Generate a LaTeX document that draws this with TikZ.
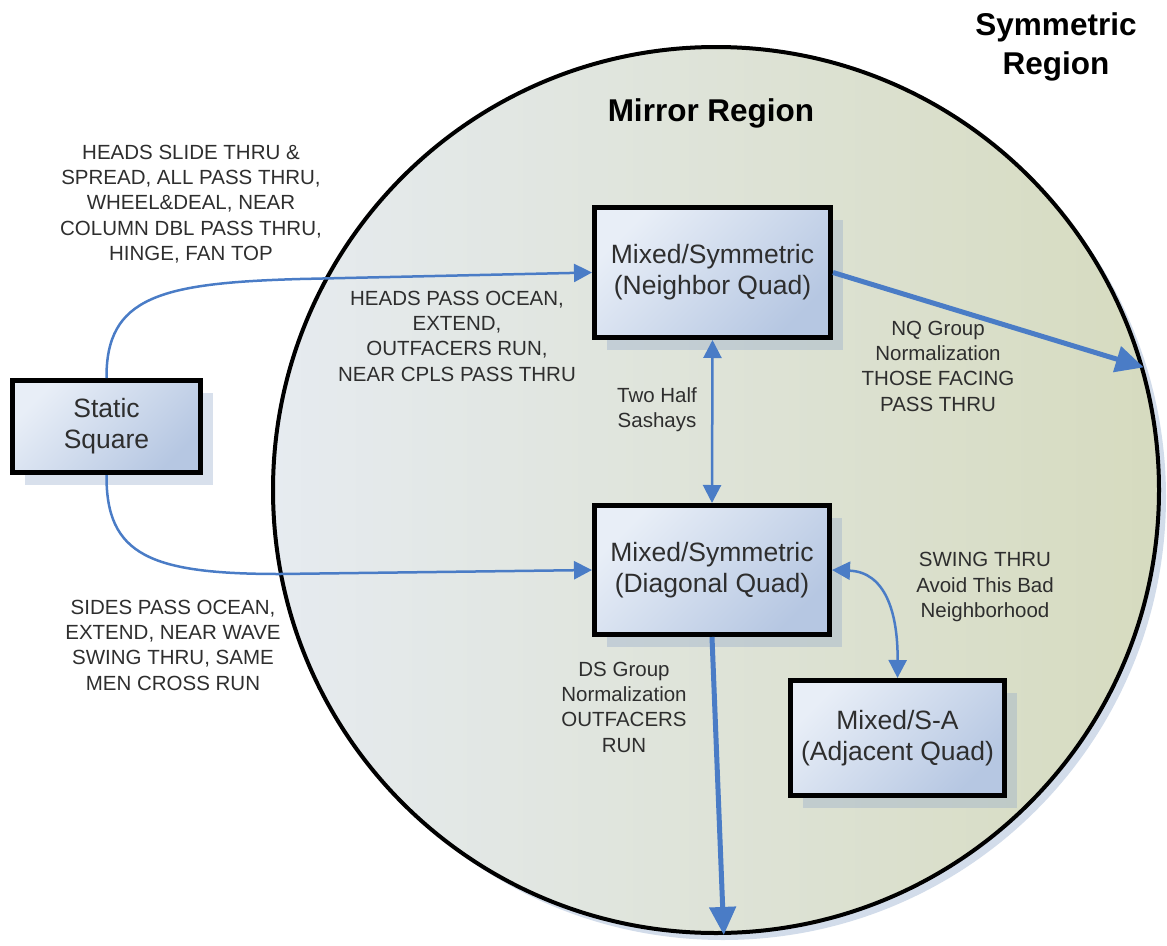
\documentclass[tikz,border=0pt]{standalone}
\usepackage{fontspec}
\setmainfont{Liberation Sans}
\usetikzlibrary{arrows.meta,shadows}
\definecolor{arrowblue}{HTML}{4A7CC6}
\definecolor{boxL}{HTML}{E8EEF7}
\definecolor{boxR}{HTML}{B6C7E2}
\definecolor{circL}{HTML}{E6EBF0}
\definecolor{circR}{HTML}{D6DBBF}
\definecolor{circShadow}{HTML}{D2DCEA}
\definecolor{shadowC}{HTML}{8FA5C9}
\definecolor{txt}{HTML}{2E2E2E}
\begin{document}
\begin{tikzpicture}[x=1pt,y=-1pt,
  qbox/.style={draw=black, line width=5pt, left color=boxL, right color=boxR, shading angle=45,
    text=txt, font=\fontsize{26.5}{31}\selectfont, align=center, inner sep=0pt,
    drop shadow={shadow xshift=12pt, shadow yshift=-12pt, fill=shadowC, opacity=0.35}},
  lbl/.style={align=center, text=txt, font=\fontsize{20.5}{25.3}\selectfont, inner sep=0pt},
  title/.style={align=center, text=black, font=\fontsize{31.5}{39}\selectfont\bfseries, inner sep=0pt},
  thinarr/.style={draw=arrowblue, line width=2.5pt, -{Triangle[length=18pt,width=18pt]}},
  thinboth/.style={draw=arrowblue, line width=2.5pt, {Triangle[length=18pt,width=18pt]}-{Triangle[length=18pt,width=18pt]}},
  thickarr/.style={draw=arrowblue, line width=5pt, -{Triangle[length=28pt,width=26pt]}}
]
\useasboundingbox (0,0) rectangle (1167,945);

% regions
\node[circle, draw=black, line width=4pt, minimum size=886pt, inner sep=0pt,
  left color=circL, right color=circR,
  drop shadow={shadow xshift=7pt, shadow yshift=-7pt, fill=circShadow, opacity=1}]
  (mirror) at (716,490) {};
\node[title] (symt) at (1056,47) {Symmetric\\Region};
\node[title] (mirt) at (711,113) {Mirror Region};

% boxes
\node[qbox, minimum width=188pt, minimum height=92pt] (ss) at (106.5,426.5) {Static\\Square};
\node[qbox, minimum width=236pt, minimum height=130pt] (nq) at (712.5,272.5) {Mixed/Symmetric\\(Neighbor Quad)};
\node[qbox, minimum width=235pt, minimum height=129pt] (dq) at (712,570) {Mixed/Symmetric\\(Diagonal Quad)};
\node[qbox, minimum width=214pt, minimum height=115pt] (aq) at (897.5,738) {Mixed/S-A\\(Adjacent Quad)};

% connectors
\coordinate (c1) at (300,279);
\coordinate (c2) at (280,574);
\draw[thinarr] (ss.north) .. controls (106,297) and (160,283) .. (c1) -- (nq.west);
\draw[thinarr] (ss.south) .. controls (106,555) and (150,574) .. (c2) -- (dq.west);
\draw[thinboth] (nq.south) -- (dq.north);
\draw[thinboth] (dq.east) .. controls (885,572) and (898,612) .. (aq.north);
\draw[thickarr] (nq.east) -- (mirror.16.8);
\draw[thickarr] (dq.south) -- (mirror.-89.6);

% labels
\node[lbl] (l1) at (191,204) {HEADS SLIDE THRU \&\\SPREAD, ALL PASS THRU,\\WHEEL\&DEAL, NEAR\\COLUMN DBL PASS THRU,\\HINGE, FAN TOP};
\node[lbl] (l2) at (457,336) {HEADS PASS OCEAN,\\EXTEND,\\OUTFACERS RUN,\\NEAR CPLS PASS THRU};
\node[lbl] (l3) at (173,645) {SIDES PASS OCEAN,\\EXTEND, NEAR WAVE\\SWING THRU, SAME\\MEN CROSS RUN};
\node[lbl] (l4) at (657,410) {Two Half\\Sashays};
\node[lbl] (l5) at (938,366) {NQ Group\\Normalization\\THOSE FACING\\PASS THRU};
\node[lbl] (l6) at (624,707) {DS Group\\Normalization\\OUTFACERS\\RUN};
\node[lbl] (l7) at (985,587) {SWING THRU\\Avoid This Bad\\Neighborhood};
\end{tikzpicture}
\end{document}
